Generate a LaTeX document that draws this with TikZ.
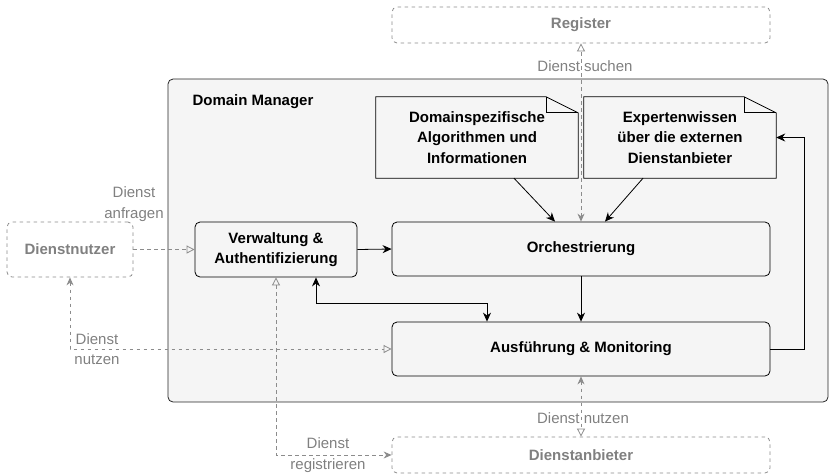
\documentclass[tikz,border=0pt]{standalone}
\usepackage{fontspec}
\setmainfont{Liberation Sans}
\usetikzlibrary{arrows.meta}
\definecolor{bgfill}{HTML}{F5F5F5}
\definecolor{gline}{HTML}{8C8C8C}
\definecolor{gtext}{HTML}{808080}
\tikzset{
  txt/.style={font=\fontsize{15}{20.5}\selectfont, align=center},
  box/.style={txt, font=\fontsize{15}{20.5}\selectfont\bfseries, draw=black, fill=bgfill, rounded corners=5pt, line width=0.8pt, inner sep=0pt},
  ghost/.style={txt, font=\fontsize{15}{20.5}\selectfont\bfseries, text=gtext, draw=gline, dash pattern=on 3.5pt off 3.5pt, rounded corners=5pt, line width=0.8pt, inner sep=0pt},
  notebox/.style={txt, font=\fontsize{15}{20.5}\selectfont\bfseries, inner sep=0pt},
  lbl/.style={txt, text=gtext},
  arr/.style={draw=black, line width=0.8pt, -{Stealth[length=9pt,width=8pt]}},
  both/.style={draw=black, line width=0.8pt, {Stealth[length=9pt,width=8pt]}-{Stealth[length=9pt,width=8pt]}},
  garr/.style={draw=gline, line width=0.8pt, dash pattern=on 3.5pt off 3.5pt},
  otip/.style={-{Triangle[open,length=8pt,width=8pt]}},
}
\begin{document}
\begin{tikzpicture}[x=1pt,y=-1pt]
\useasboundingbox (0,0) rectangle (830,475);
% container
\draw[draw=black!85, fill=bgfill, line width=0.8pt, rounded corners=5pt] (168,79) rectangle (828,402);
\node[txt, font=\fontsize{15}{20.5}\selectfont\bfseries, anchor=west] (dm) at (189,102) {Domain Manager};
% ghost boxes
\node[ghost, minimum width=378pt, minimum height=36pt] (reg) at (581,25) {Register};
\node[ghost, minimum width=126pt, minimum height=55pt] (dn) at (70,249.5) {Dienstnutzer};
\node[ghost, minimum width=378pt, minimum height=36pt] (anb) at (581,455) {Dienstanbieter};
% main boxes
\node[box, minimum width=162pt, minimum height=55pt] (verw) at (276,249.5) {Verwaltung \&\\Authentifizierung};
\node[box, minimum width=378pt, minimum height=54pt] (orch) at (581,249) {Orchestrierung};
\node[box, minimum width=378pt, minimum height=54pt] (ausf) at (581,349) {Ausführung \& Monitoring};
% notes
\node[notebox, minimum width=202pt, minimum height=81pt] (n1) at (477,137.5) {Domainspezifische\\Algorithmen und\\Informationen};
\node[notebox, minimum width=192pt, minimum height=81pt] (n2) at (680,137.5) {Expertenwissen\\über die externen\\Dienstanbieter};
\foreach \n in {n1,n2}{
  \draw[draw=black, fill=bgfill, line width=0.8pt] (\n.south west) -- (\n.north west) -- ([xshift=-32pt]\n.north east) -- ([yshift=-16pt]\n.north east) -- (\n.south east) -- cycle;
  \draw[draw=black, line width=0.8pt] ([xshift=-32pt]\n.north east) -- ([xshift=-32pt,yshift=-16pt]\n.north east) -- ([yshift=-16pt]\n.north east);
}
\node[notebox, minimum width=202pt, minimum height=81pt] at (n1) {Domainspezifische\\Algorithmen und\\Informationen};
\node[notebox, minimum width=192pt, minimum height=81pt] at (n2) {Expertenwissen\\über die externen\\Dienstanbieter};
% black connectors
\draw[arr] (verw.east) -- (orch.west);
\draw[arr] (orch.south) -- (ausf.north);
\draw[arr] ([xshift=37pt]n1.south) -- ([xshift=-26pt]orch.north);
\draw[arr] ([xshift=-37pt]n2.south) -- ([xshift=24pt]orch.north);
\draw[both] ([xshift=40pt]verw.south) -- ++(0,26) -| ([xshift=-94pt]ausf.north);
\draw[arr] (ausf.east) -- ++(34,0) |- (n2.east);
% gray dashed connectors
\draw[garr, {Stealth[length=8pt,width=7pt]}-{Triangle[open,length=8pt,width=8pt]}] (orch.north) -- (reg.south);
\draw[garr, otip] (dn.east) -- (verw.west);
\draw[garr, {Stealth[length=8pt,width=7pt]}-{Triangle[open,length=8pt,width=8pt]}] (dn.south) |- (ausf.west);
\draw[garr, {Triangle[open,length=8pt,width=8pt]}-{Stealth[length=8pt,width=7pt]}] (verw.south) |- (anb.west);
\draw[garr, {Stealth[length=8pt,width=7pt]}-{Triangle[open,length=8pt,width=8pt]}] (ausf.south) -- (anb.north);
% labels
\node[lbl] (l1) at (585,66) {Dienst suchen};
\node[lbl] (l2) at (134,204) {Dienst\\anfragen};
\node[lbl] (l3) at (97,349) {Dienst\\nutzen};
\node[lbl] (l4) at (328,455) {Dienst\\registrieren};
\node[lbl] (l5) at (583,418) {Dienst nutzen};
\end{tikzpicture}
\end{document}
